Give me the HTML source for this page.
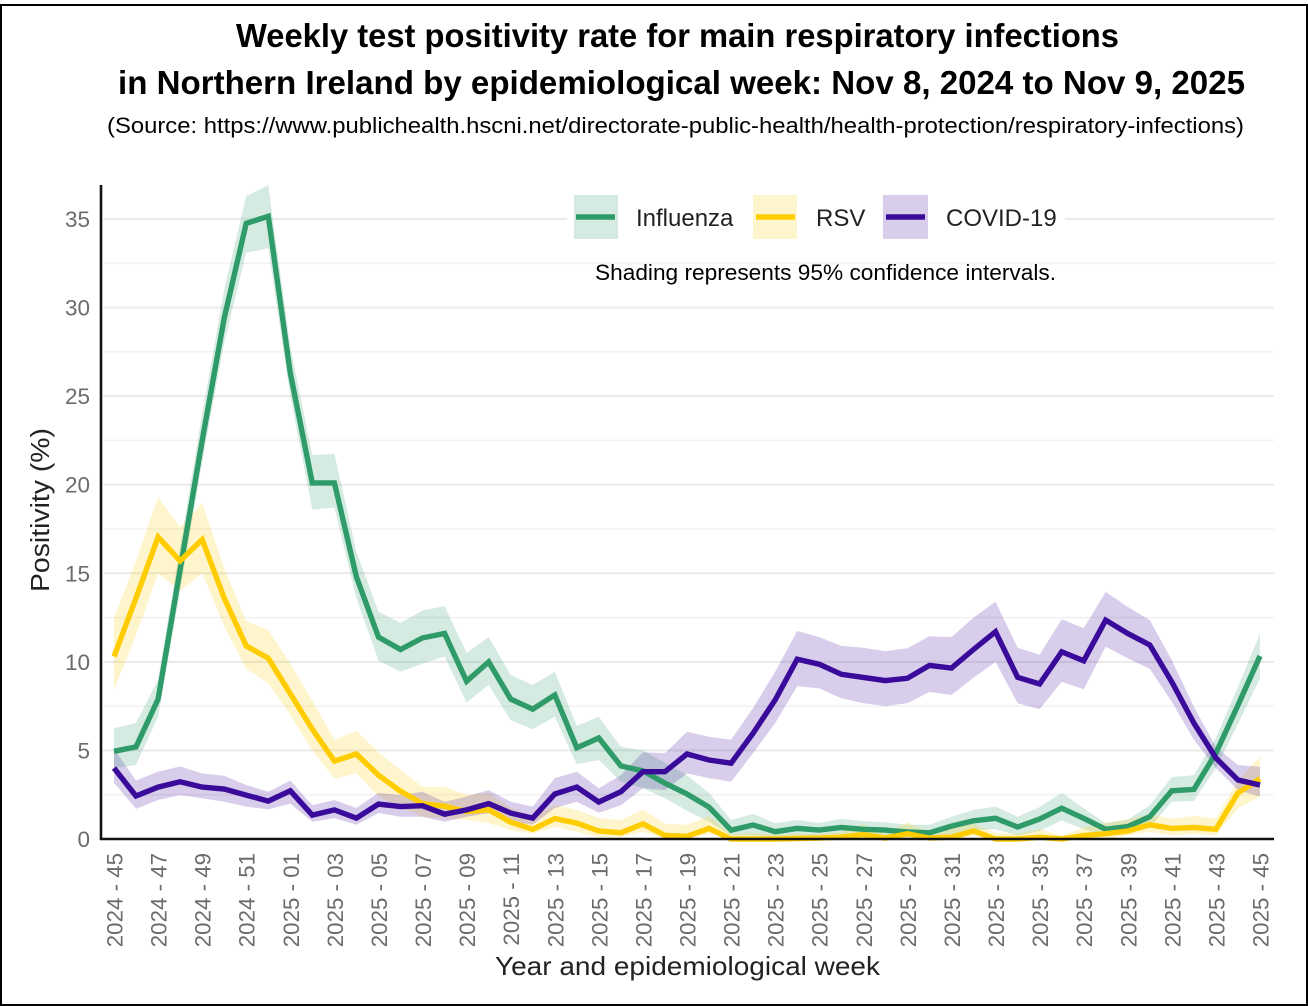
<!DOCTYPE html>
<html lang="en">
<head>
<meta charset="utf-8">
<title>Weekly test positivity rate, Northern Ireland</title>
<style>
html,body{margin:0;padding:0;background:#fff;}
svg{display:block;}
text{font-family:"Liberation Sans",sans-serif;}
</style>
</head>
<body>
<svg id="chart" xmlns="http://www.w3.org/2000/svg" width="1308" height="1006" viewBox="0 0 1308 1006">
  <rect x="0" y="0" width="1308" height="1006" fill="#ffffff"/>
  <rect x="1" y="5" width="1306" height="1000" fill="none" stroke="#000" stroke-width="2"/>
  <text x="236" y="47" font-size="33" font-weight="700" fill="#000" textLength="883" lengthAdjust="spacingAndGlyphs">Weekly test positivity rate for main respiratory infections</text>
  <text x="118" y="94" font-size="33" font-weight="700" fill="#000" textLength="1127" lengthAdjust="spacingAndGlyphs">in Northern Ireland by epidemiological week: Nov 8, 2024 to Nov 9, 2025</text>
  <text x="107" y="133" font-size="22.5" fill="#000" textLength="1137" lengthAdjust="spacingAndGlyphs">(Source: https://www.publichealth.hscni.net/directorate-public-health/health-protection/respiratory-infections)</text>
  <g id="grid"></g>
  <g id="bands"></g>
  <g id="lines"></g>
  <g id="yticks"></g>
  <g id="xticks"></g>
  <line x1="101" y1="185" x2="101" y2="840" stroke="#111" stroke-width="2.6"/>
  <line x1="100" y1="839" x2="1274" y2="839" stroke="#111" stroke-width="2.6"/>
  <text transform="translate(49,592) rotate(-90)" font-size="25.5" fill="#222" textLength="164" lengthAdjust="spacingAndGlyphs">Positivity (%)</text>
  <text x="495" y="975" font-size="26" fill="#222" textLength="385" lengthAdjust="spacingAndGlyphs">Year and epidemiological week</text>
  <g>
    <rect x="567" y="190" width="498" height="56" fill="#fff"/>
    <g>
      <rect x="574" y="195" width="44" height="44" fill="#2e9b68" fill-opacity="0.2"/>
      <line x1="576" y1="217" x2="615" y2="217" stroke="#2e9b68" stroke-width="5.5"/>
      <text x="636" y="226" font-size="24" fill="#222">Influenza</text>
    </g>
    <g>
      <rect x="753" y="195" width="44" height="44" fill="#ffcc00" fill-opacity="0.2"/>
      <line x1="756" y1="217" x2="795" y2="217" stroke="#ffcc00" stroke-width="5.5"/>
      <text x="816" y="226" font-size="24" fill="#222">RSV</text>
    </g>
    <g>
      <rect x="883" y="195" width="45" height="44" fill="#3a0a9a" fill-opacity="0.2"/>
      <line x1="886" y1="217" x2="925" y2="217" stroke="#3a0a9a" stroke-width="5.5"/>
      <text x="946" y="226" font-size="24" fill="#222">COVID-19</text>
    </g>
  </g>
  <text x="595" y="280" font-size="22.5" fill="#000" textLength="461" lengthAdjust="spacingAndGlyphs">Shading represents 95% confidence intervals.</text>
</svg>
<script>
var weeks = ["2024 - 45","2024 - 46","2024 - 47","2024 - 48","2024 - 49","2024 - 50","2024 - 51","2024 - 52","2025 - 01","2025 - 02","2025 - 03","2025 - 04","2025 - 05","2025 - 06","2025 - 07","2025 - 08","2025 - 09","2025 - 10","2025 - 11","2025 - 12","2025 - 13","2025 - 14","2025 - 15","2025 - 16","2025 - 17","2025 - 18","2025 - 19","2025 - 20","2025 - 21","2025 - 22","2025 - 23","2025 - 24","2025 - 25","2025 - 26","2025 - 27","2025 - 28","2025 - 29","2025 - 30","2025 - 31","2025 - 32","2025 - 33","2025 - 34","2025 - 35","2025 - 36","2025 - 37","2025 - 38","2025 - 39","2025 - 40","2025 - 41","2025 - 42","2025 - 43","2025 - 44","2025 - 45"];
var yTickLabels = [0,5,10,15,20,25,30,35];
var yMinorTicks = [2.5,7.5,12.5,17.5,22.5,27.5,32.5];

var influenza = [4.95,5.2,7.9,15.2,22.5,29.4,34.75,35.15,26.3,20.1,20.1,14.8,11.4,10.7,11.35,11.6,8.9,10.0,7.9,7.33,8.13,5.15,5.7,4.12,3.85,3.15,2.54,1.8,0.5,0.79,0.41,0.6,0.5,0.65,0.55,0.5,0.4,0.35,0.73,1.03,1.17,0.68,1.13,1.74,1.17,0.55,0.7,1.26,2.72,2.8,4.85,7.56,10.33];
var influenzaUpper = [6.26,6.55,9.0,16.5,24,31,36.3,36.9,27.8,21.67,21.75,16.2,12.83,12.2,12.9,13.15,10.5,11.4,9.25,8.7,9.44,6.38,6.9,5.2,5.0,4.3,3.6,2.6,1.07,1.41,0.9,1.07,0.9,1.15,1.0,0.95,0.8,0.8,1.26,1.64,1.83,1.26,1.8,2.6,1.74,0.9,1.1,1.9,3.5,3.6,5.7,8.6,11.6];
var influenzaLower = [4.0,4.18,6.9,14,21.3,28,33.1,33.35,25,18.6,18.7,13.6,10.06,9.44,9.9,10.3,7.7,8.7,6.7,6.2,6.9,4.23,4.46,3.23,2.87,2.3,1.6,0.97,0.2,0.2,0.1,0.15,0.1,0.2,0.15,0.1,0.1,0.1,0.25,0.5,0.55,0.2,0.45,1.05,0.55,0.2,0.3,0.65,2.1,2.15,4.0,6.5,9.07];

var rsv = [10.3,13.6,17.05,15.7,16.9,13.6,10.9,10.2,8.2,6.2,4.4,4.8,3.6,2.7,2.0,1.85,1.55,1.65,0.95,0.55,1.15,0.9,0.45,0.35,0.85,0.2,0.15,0.6,0,0,0,0.03,0.05,0.1,0.25,0.05,0.3,0.05,0.1,0.45,0,0,0.1,0,0.2,0.3,0.45,0.8,0.6,0.65,0.55,2.6,3.4];
var rsvUpper = [12.47,15.7,19.3,17.6,18.95,15.3,12.3,11.8,9.9,7.8,5.6,6.1,4.9,3.9,2.95,2.95,2.5,2.6,1.75,1.25,1.9,1.64,1.18,1.07,1.67,0.85,0.8,1.3,0.3,0.35,0.25,0.3,0.3,0.4,0.8,0.3,0.95,0.35,0.6,0.85,0.35,0.3,0.55,0.2,0.65,0.9,1.1,1.4,1.15,1.3,1.15,3.3,4.65];
var rsvLower = [8.4,11.5,15,14,15,12,9.6,8.8,7.0,5.0,3.4,3.7,2.4,1.8,1.25,1.18,1.07,0.9,0.5,0.3,0.7,0.4,0.1,0.1,0.4,0,0,0.3,0,0,0,0,0,0,0.05,0,0,0,0,0.15,0,0,0,0,0,0,0.2,0.4,0.2,0.3,0.2,1.74,2.4];

var covid = [4.0,2.43,2.93,3.23,2.93,2.82,2.48,2.14,2.72,1.35,1.64,1.18,1.97,1.83,1.88,1.4,1.64,2.0,1.46,1.18,2.54,2.93,2.09,2.67,3.8,3.8,4.8,4.46,4.28,5.97,7.85,10.15,9.87,9.3,9.12,8.94,9.07,9.8,9.65,10.7,11.7,9.13,8.75,10.57,10.06,12.36,11.6,10.95,8.87,6.54,4.57,3.33,3.05];
var covidUpper = [5.1,3.3,3.8,4.1,3.7,3.57,3.05,2.67,3.3,1.9,2.2,1.75,2.6,2.48,2.67,2.1,2.4,2.76,2.1,1.83,3.44,3.8,2.87,3.6,4.9,4.85,6.05,5.77,5.6,7.4,9.44,11.75,11.4,10.9,10.8,10.6,10.77,11.45,11.4,12.5,13.4,10.8,10.4,12.4,11.9,13.95,13.1,12.36,10.1,7.46,5.2,4.18,4.08];
var covidLower = [3.18,1.7,2.2,2.48,2.3,2.1,1.83,1.67,2.0,0.97,1.18,0.8,1.46,1.26,1.26,0.97,1.26,1.46,0.97,0.8,1.75,2.1,1.48,1.9,2.87,2.76,3.7,3.44,3.23,4.85,6.55,8.63,8.5,7.95,7.66,7.5,7.66,8.3,8.13,9.1,10.0,7.66,7.33,8.87,8.45,10.85,10.2,9.6,7.75,5.6,4.0,2.76,2.4];

var SVGNS = 'http://www.w3.org/2000/svg';
function xScale(i) { return 114 + i * (1146 / (weeks.length - 1)); }
function yScale(v) { return 839 - v * (620 / 35); }
function pathFrom(values) {
  return values.map(function (v, i) { return (i ? 'L' : 'M') + xScale(i).toFixed(1) + ' ' + yScale(v).toFixed(1); }).join(' ');
}
function bandFrom(upper, lower) {
  var d = pathFrom(upper);
  for (var i = lower.length - 1; i >= 0; i--) { d += ' L' + xScale(i).toFixed(1) + ' ' + yScale(lower[i]).toFixed(1); }
  return d + ' Z';
}
var gridG = document.getElementById('grid');
var bandsG = document.getElementById('bands');
var linesG = document.getElementById('lines');
var yG = document.getElementById('yticks');
var xG = document.getElementById('xticks');

yMinorTicks.forEach(function (v) {
  var l = document.createElementNS(SVGNS, 'line');
  
  
  l.setAttribute('x1', 103); l.setAttribute('x2', 1274);
  l.setAttribute('y1', yScale(v)); l.setAttribute('y2', yScale(v));
  l.setAttribute('stroke', '#f2f2f2'); l.setAttribute('stroke-width', 1.6);
  gridG.appendChild(l);
});
yTickLabels.forEach(function (v) {
  if (v > 0) {
    var l = document.createElementNS(SVGNS, 'line');
    
    
    l.setAttribute('x1', 103); l.setAttribute('x2', 1274);
    l.setAttribute('y1', yScale(v)); l.setAttribute('y2', yScale(v));
    l.setAttribute('stroke', '#ebebeb'); l.setAttribute('stroke-width', 2.2);
    gridG.appendChild(l);
  }
  var t = document.createElementNS(SVGNS, 'text');
  
  
  t.setAttribute('x', 90);
  t.setAttribute('y', yScale(v) + 8);
  t.setAttribute('text-anchor', 'end');
  t.setAttribute('font-size', 22.5);
  t.setAttribute('fill', '#6b6b6b');
  t.textContent = v;
  yG.appendChild(t);
});
weeks.forEach(function (w, i) {
  if (i % 2) return;
  var t = document.createElementNS(SVGNS, 'text');
  
  
  t.setAttribute('transform', 'translate(' + (xScale(i) + 8.5).toFixed(1) + ',853) rotate(-90)');
  t.setAttribute('text-anchor', 'end');
  t.setAttribute('font-size', 22.3);
  t.setAttribute('fill', '#6b6b6b');
  t.textContent = w;
  xG.appendChild(t);
});

function drawBand(upper, lower, color, name) {
  var p = document.createElementNS(SVGNS, 'path');
  
  
  p.setAttribute('d', bandFrom(upper, lower));
  p.setAttribute('fill', color);
  p.setAttribute('fill-opacity', 0.2);
  bandsG.appendChild(p);
}
function drawLine(values, color, name) {
  var p = document.createElementNS(SVGNS, 'path');
  
  
  p.setAttribute('d', pathFrom(values));
  p.setAttribute('fill', 'none');
  p.setAttribute('stroke', color);
  p.setAttribute('stroke-width', 5.4);
  p.setAttribute('stroke-linejoin', 'miter');
  linesG.appendChild(p);
}
drawBand(influenzaUpper, influenzaLower, '#2e9b68', 'influenza-band');
drawBand(rsvUpper, rsvLower, '#ffcc00', 'rsv-band');
drawBand(covidUpper, covidLower, '#3a0a9a', 'covid-19-band');
drawLine(influenza, '#2e9b68', 'influenza-line');
drawLine(rsv, '#ffcc00', 'rsv-line');
drawLine(covid, '#3a0a9a', 'covid-19-line');
</script>
</body>
</html>
